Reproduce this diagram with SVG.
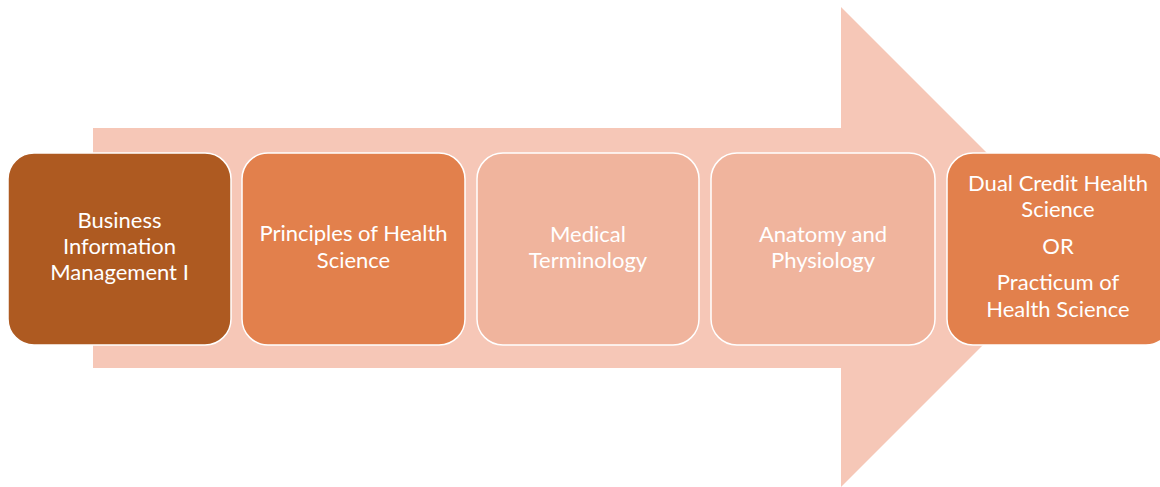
<svg xmlns="http://www.w3.org/2000/svg" width="1160" height="487" viewBox="0 0 1160 487">
<style>
.box{stroke:#ffffff;stroke-width:1.5}
.t{font-family:Lato,"Open Sans",sans-serif;font-size:22px;fill:#ffffff;text-anchor:middle}
</style>
<rect width="1160" height="487" fill="#ffffff"/>
<g id="arrow">
<polygon points="93,128 841,128 841,7 1081,247 841,487 841,368 93,368" fill="#F6C7B7"/>
</g>
<g id="connectors"></g>
<g id="node1">
<rect class="box" x="8" y="153" width="223" height="192" rx="26" fill="#AE5A21"/>
<text class="t" x="119.5" y="228">Business</text>
<text class="t" x="119.5" y="254">Information</text>
<text class="t" x="119.5" y="280">Management I</text>
</g>
<g id="node2">
<rect class="box" x="242" y="153" width="223" height="192" rx="26" fill="#E2804C"/>
<text class="t" x="353.5" y="241">Principles of Health</text>
<text class="t" x="353.5" y="268">Science</text>
</g>
<g id="node3">
<rect class="box" x="477" y="153" width="222" height="192" rx="26" fill="#F0B49D"/>
<text class="t" x="588" y="242">Medical</text>
<text class="t" x="588" y="268">Terminology</text>
</g>
<g id="node4">
<rect class="box" x="711" y="153" width="224" height="192" rx="26" fill="#F0B49D"/>
<text class="t" x="823" y="242">Anatomy and</text>
<text class="t" x="823" y="268">Physiology</text>
</g>
<g id="node5">
<rect class="box" x="947" y="153" width="225" height="192" rx="26" fill="#E2804C"/>
<text class="t" x="1058" y="191">Dual Credit Health</text>
<text class="t" x="1058" y="217">Science</text>
<text class="t" x="1058" y="254">OR</text>
<text class="t" x="1058" y="290">Practicum of</text>
<text class="t" x="1058" y="317">Health Science</text>
</g>
</svg>
